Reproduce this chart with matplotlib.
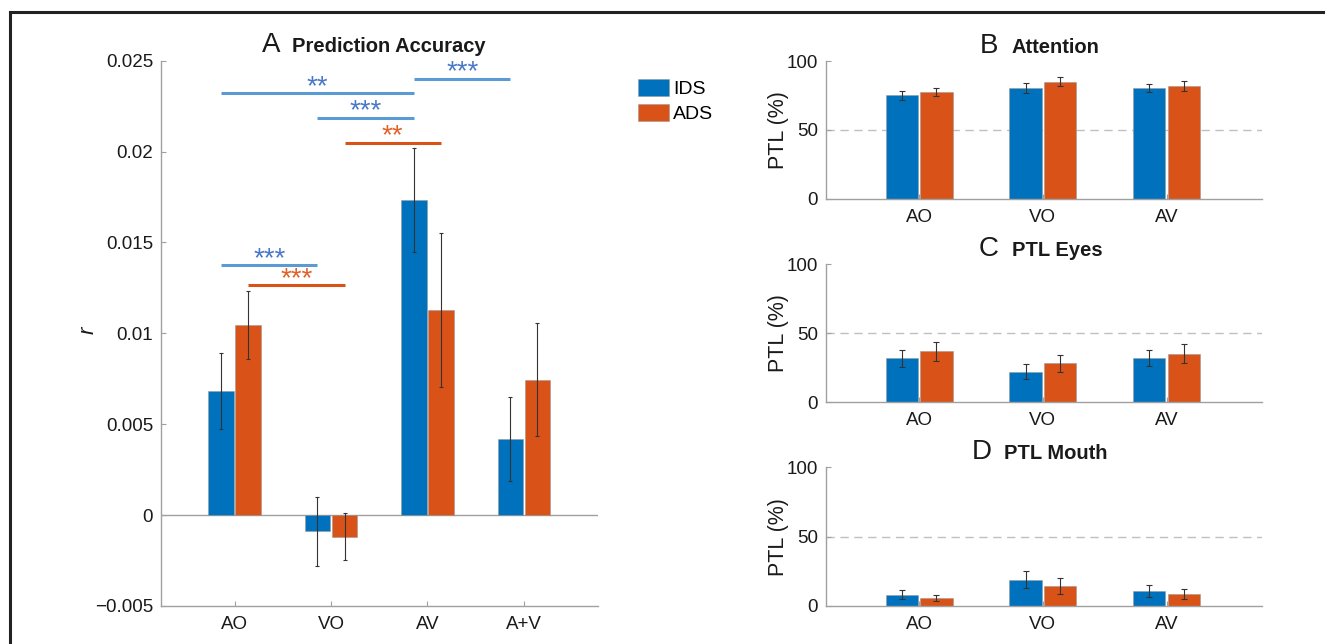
import numpy as np
import matplotlib
matplotlib.use("Agg")
import matplotlib.pyplot as plt
from matplotlib.lines import Line2D

plt.rcParams['font.family'] = ['Liberation Sans', 'DejaVu Sans']

# panel A data
conds_a = ["AO", "VO", "AV", "A+V"]
ids_r = [0.00683, -0.00088, 0.01735, 0.00419]
ids_r_err = [0.0021, 0.0019, 0.00287, 0.0023]
ads_r = [0.01046, -0.00119, 0.0113, 0.00746]
ads_r_err = [0.00187, 0.0013, 0.00423, 0.00313]
ytick_a = [-0.005, 0, 0.005, 0.01, 0.015, 0.02, 0.025]
ytick_a_lab = ["\u22120.005", "0", "0.005", "0.01", "0.015", "0.02", "0.025"]

# significance brackets: (cond1, cond2, group), height, label
sig_pairs = [(0, 2, "IDS"), (2, 3, "IDS"), (1, 2, "IDS"), (1, 2, "ADS"), (0, 1, "IDS"), (0, 1, "ADS")]
sig_heights = [0.0232, 0.0240, 0.02185, 0.02046, 0.01374, 0.01264]
sig_labels = ["**", "***", "***", "**", "***", "***"]

# panels B-D data
conds_b = ["AO", "VO", "AV"]
att_ids = [75.1, 80.2, 80.4]
att_ids_err = [3.3, 3.5, 3.0]
att_ads = [77.3, 85.0, 82.1]
att_ads_err = [3.0, 3.4, 3.5]
eyes_ids = [31.9, 22.2, 31.9]
eyes_ids_err = [6.0, 5.3, 5.7]
eyes_ads = [37.0, 28.3, 35.3]
eyes_ads_err = [7.0, 6.3, 6.7]
mouth_ids = [8.2, 19.0, 10.6]
mouth_ids_err = [3.4, 6.2, 4.2]
mouth_ads = [5.8, 14.4, 8.9]
mouth_ads_err = [2.4, 5.9, 3.6]

blue = "#0072BD"
orange = "#D95319"
spine_col = "#a0a0a0"
txt_col = "#1a1a1a"
w = 0.26
off = 0.14

W, H = 1325, 644
fig = plt.figure(figsize=(W / 100, H / 100), dpi=100)


def style(ax):
    for s in ["top", "right"]:
        ax.spines[s].set_visible(False)
    for s in ["left", "bottom"]:
        ax.spines[s].set_color(spine_col)
        ax.spines[s].set_linewidth(1)
    ax.tick_params(direction="in", length=3.5, width=0.8, color=spine_col,
                   labelsize=13.5, labelcolor=txt_col)
    ax.tick_params(axis="y", pad=5.5)
    ax.tick_params(axis="x", pad=7)


def bars(ax, ids, ids_err, ads, ads_err, cap):
    x = np.arange(len(ids))
    ax.bar(x - off, ids, w, color=blue, edgecolor="#9a9a9a", linewidth=0.4, label="IDS", zorder=2)
    ax.bar(x + off, ads, w, color=orange, edgecolor="#9a9a9a", linewidth=0.4, label="ADS", zorder=2)
    ax.errorbar(x - off, ids, yerr=ids_err, fmt="none", ecolor="#333333", elinewidth=0.8,
                capsize=cap, capthick=0.8, zorder=3)
    ax.errorbar(x + off, ads, yerr=ads_err, fmt="none", ecolor="#333333", elinewidth=0.8,
                capsize=cap, capthick=0.8, zorder=3)
    return x


def title(letter, bold, xl, xb, yb):
    fig.text(xl / W, 1 - yb / H, letter, fontsize=20, ha="center", va="baseline", color=txt_col)
    fig.text(xb / W, 1 - yb / H, bold, fontsize=14.5, fontweight="bold", ha="left",
             va="baseline", color=txt_col)


# ---- panel A ----
axA = fig.add_axes([160.7 / W, 1 - 606 / H, (598 - 160.7) / W, (606 - 60.7) / H])
style(axA)
xa = bars(axA, ids_r, ids_r_err, ads_r, ads_r_err, 1.6)
axA.axhline(0, color=spine_col, lw=1, zorder=1)
axA.set_xlim(-0.765, 3.767)
axA.set_ylim(-0.005, 0.025)
axA.set_xticks(xa)
axA.set_xticklabels(conds_a)
axA.set_yticks(ytick_a)
axA.set_yticklabels(ytick_a_lab)
axA.set_ylabel("r", fontsize=16, style="italic", color=txt_col)
axA.yaxis.set_label_coords(-0.142, 0.505)

for (c1, c2, grp), h, lab in zip(sig_pairs, sig_heights, sig_labels):
    o = -off if grp == "IDS" else off
    lc = "#5B9BD5" if grp == "IDS" else "#D95319"
    sc = "#4A78C8" if grp == "IDS" else "#E0622A"
    axA.plot([c1 + o, c2 + o], [h, h], color=lc, lw=2.2, solid_capstyle="butt", zorder=4)
    axA.annotate(lab, xy=((c1 + c2) / 2 + o, h), xytext=(0, -0.3), textcoords="offset points",
                 ha="center", va="baseline", fontsize=20, color=sc)

axA.legend(loc="upper left", bbox_to_anchor=(638 / W, 1 - 79 / H), bbox_transform=fig.transFigure,
           frameon=False, fontsize=14, handlelength=1.6, handleheight=0.95, handletextpad=0.2,
           labelspacing=0.3, borderpad=0, borderaxespad=0)
title("A", "Prediction Accuracy", 271.5, 292, 52)

# ---- panels B-D ----
right = [
    ("B", "Attention", att_ids, att_ids_err, att_ads, att_ads_err, 61, 199, 989, 1012, 53),
    ("C", "PTL Eyes", eyes_ids, eyes_ids_err, eyes_ads, eyes_ads_err, 264.3, 402.3, 989, 1012, 256),
    ("D", "PTL Mouth", mouth_ids, mouth_ids_err, mouth_ads, mouth_ads_err, 467.3, 606, 982, 1004, 459),
]
for letter, name, ids, ide, ads, ade, top, bot, xl, xb, yb in right:
    ax = fig.add_axes([825.5 / W, 1 - bot / H, 436.5 / W, (bot - top) / H])
    style(ax)
    xb_ = bars(ax, ids, ide, ads, ade, 2.2)
    ax.axhline(50, color="#c0c0c0", lw=1, dashes=(6, 4), zorder=1)
    ax.set_xlim(-0.756, 2.77)
    ax.set_ylim(0, 100)
    ax.set_yticks([0, 50, 100])
    ax.set_xticks(xb_)
    ax.set_xticklabels(conds_b)
    ax.set_ylabel("PTL (%)", fontsize=15.5, color=txt_col)
    ax.yaxis.set_label_coords(-0.084, 0.5)
    title(letter, name, xl, xb, yb)

# outer frame (left and top edges)
fx = 9.5 / W
fy = 1 - 12 / H
fig.add_artist(Line2D([fx, fx], [0, fy], transform=fig.transFigure, color="#222222", lw=2.2))
fig.add_artist(Line2D([fx, 1], [fy, fy], transform=fig.transFigure, color="#222222", lw=2.2,
                      solid_capstyle="projecting"))

fig.savefig("out.png", dpi=100)
